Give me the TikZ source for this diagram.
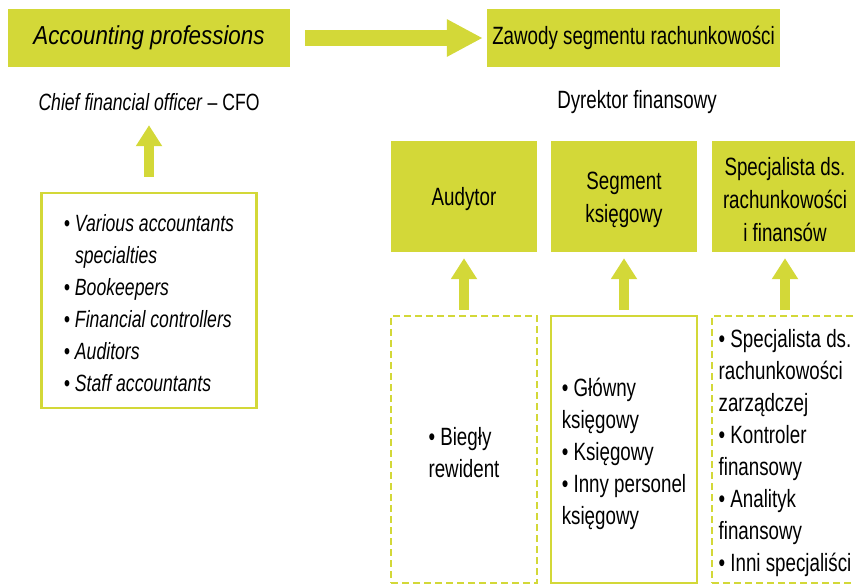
\documentclass[tikz,border=0pt]{standalone}
\usepackage{fontspec}
\setmainfont[FakeStretch=0.75]{Liberation Sans}
\newfontfamily\titlefont[FakeStretch=0.86]{Liberation Sans}
\usetikzlibrary{arrows.meta}
\definecolor{accgreen}{RGB}{211,216,56}

\begin{document}
\begin{tikzpicture}[x=1bp, y=-1bp,
    every node/.style={font=\fontsize{25bp}{32bp}\selectfont},
    headbox/.style={fill=accgreen, minimum height=58bp, inner sep=0pt},
    rolebox/.style={fill=accgreen, minimum width=146bp, minimum height=111bp, inner sep=0pt},
    roletext/.style={inner sep=0pt, align=center, font=\fontsize{25bp}{33bp}\selectfont},
    listbox/.style={draw=accgreen, line width=2.5bp, inner sep=0pt},
    dashbox/.style={listbox, dash pattern=on 7bp off 4bp},
    listtext/.style={inner sep=0pt, align=left},
    bigarrow/.style={draw=accgreen, line width=16bp,
        -{Triangle[width=35bp, length=36bp]}},
    uparrow/.style={draw=accgreen, line width=10bp,
        -{Triangle[width=25bp, length=21bp]}}]
    \useasboundingbox (0,0) rectangle (855,585);

    % English side
    \node[headbox, minimum width=282bp,
        font=\titlefont\fontsize{26bp}{30bp}\selectfont\itshape]
        (acc) at (149,38) {Accounting professions};
    \node[inner sep=0pt, minimum height=20bp, font=\fontsize{23.5bp}{30bp}\selectfont]
        (cfo) at (149,102) {\textit{Chief financial officer} -- CFO};
    \node[listbox, minimum width=215bp, minimum height=215bp] (eng) at (149,300.5) {};
    \node[listtext, font=\fontsize{23.5bp}{32bp}\selectfont\itshape] (engtxt)
        at ([yshift=-3bp]eng.center)
        {• Various accountants\\
         \phantom{• }specialties\\
         • Bookeepers\\
         • Financial controllers\\
         • Auditors\\
         • Staff accountants};

    % Polish side
    \node[headbox, minimum width=293bp] (zaw) at (633.5,38)
        {Zawody segmentu rachunkowości};
    \node[inner sep=0pt, minimum height=20bp] (dyr) at (637,102) {Dyrektor finansowy};

    \node[rolebox] (aud) at (464,196.5) {};
    \node[rolebox] (seg) at (624,196.5) {};
    \node[rolebox] (spec) at (785,196.5) {};
    \node[roletext] (audtxt) at ([yshift=-3bp]aud.center) {Audytor};
    \node[roletext] (segtxt) at ([yshift=-3bp]seg.center) {Segment\\księgowy};
    \node[roletext] (spectxt) at ([yshift=-3bp]spec.center)
        {Specjalista ds.\\rachunkowości\\i finansów};

    \node[dashbox, minimum width=146bp, minimum height=267bp] (bieg) at (464,449.5) {};
    \node[listbox, minimum width=146bp, minimum height=267bp] (ksieg) at (624,449.5) {};
    \node[dashbox, minimum width=146bp, minimum height=267bp] (inni) at (785,449.5) {};
    \node[listtext] (biegtxt) at ([yshift=-3bp]bieg.center) {• Biegły\\rewident};
    \node[listtext] (ksiegtxt) at ([yshift=-4bp]ksieg.center)
        {• Główny\\księgowy\\• Księgowy\\• Inny personel\\księgowy};
    \node[listtext] (innitxt) at ([yshift=-4bp]inni.center)
        {• Specjalista ds.\\rachunkowości\\zarządczej\\• Kontroler\\finansowy\\%
         • Analityk\\finansowy\\• Inni specjaliści};

    % arrows
    \draw[bigarrow, shorten <=15bp, shorten >=4bp] (acc.east) -- (zaw.west);
    \draw[uparrow, shorten <=15bp, shorten >=13bp] (eng.north) -- (cfo.south);
    \draw[uparrow, shorten <=5bp, shorten >=6bp] (bieg.north) -- (aud.south);
    \draw[uparrow, shorten <=5bp, shorten >=6bp] (ksieg.north) -- (seg.south);
    \draw[uparrow, shorten <=5bp, shorten >=6bp] (inni.north) -- (spec.south);
\end{tikzpicture}
\end{document}
